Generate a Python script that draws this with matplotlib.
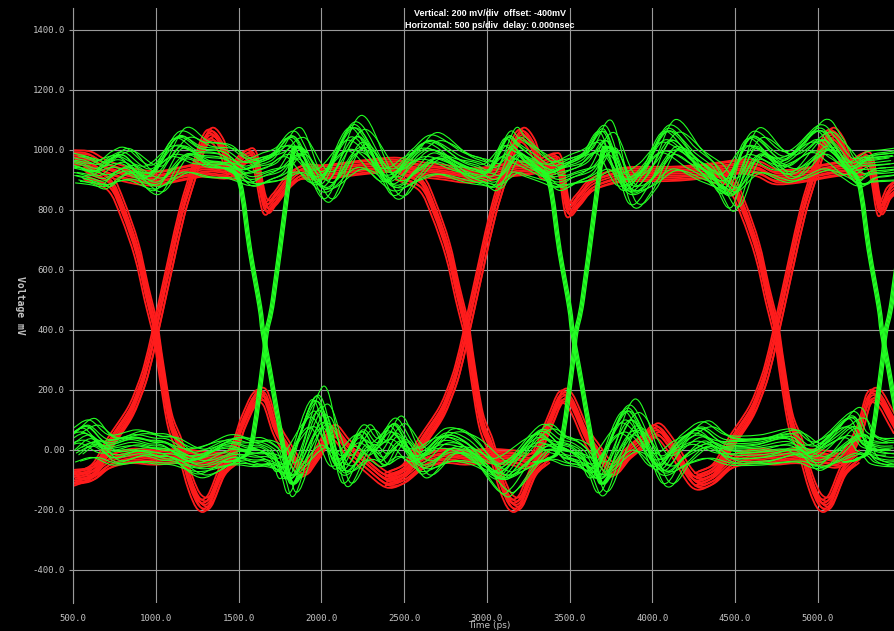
import numpy as np
import matplotlib
matplotlib.use('Agg')
import matplotlib.pyplot as plt
from matplotlib.path import Path
from matplotlib.patches import PathPatch

# ---------------------------------------------------------------------------
# Data (time in ps, voltage in mV)
# ---------------------------------------------------------------------------
x_ticks = [500, 1000, 1500, 2000, 2500, 3000, 3500, 4000, 4500, 5000]
x_tick_labels = ['500.0', '1000.0', '1500.0', '2000.0', '2500.0',
                 '3000.0', '3500.0', '4000.0', '4500.0', '5000.0']
y_ticks = [-400, -200, 0, 200, 400, 600, 800, 1000, 1200, 1400]
y_tick_labels = ['-400.0', '-200.0', '0.00', '200.0', '400.0',
                 '600.0', '800.0', '1000.0', '1200.0', '1400.0']

# red signal: crossing points and rails
red_cross = [1000, 2880, 4750]
red_hi_t = [500, 600, 700, 850, 1000, 1150, 1300, 1450, 1540, 1600, 1660, 1720, 1790, 1880, 2000,
            2150, 2300, 2450, 2600, 2750, 2880, 3000, 3150, 3300, 3400, 3445, 3490, 3550, 3640, 3800,
            3950, 4100, 4250, 4400, 4550, 4650, 4750, 4900, 5050, 5200, 5290, 5330, 5375, 5430, 5470]
red_hi_v = [975, 970, 940, 915, 905, 920, 935, 930, 975, 965, 815, 835, 885, 925, 925,
            935, 945, 950, 935, 925, 915, 920, 935, 945, 965, 945, 805, 830, 885, 915,
            920, 920, 925, 935, 945, 935, 910, 915, 930, 945, 970, 935, 805, 855, 875]
red_lo_t = [500, 620, 720, 850, 1000, 1150, 1300, 1450, 1530, 1600, 1660, 1720, 1790, 1890, 1980,
            2070, 2160, 2280, 2400, 2500, 2620, 2760, 2880, 3000, 3150, 3280, 3380, 3450, 3510, 3600,
            3660, 3760, 3860, 3950, 4030, 4120, 4250, 4360, 4480, 4620, 4750, 4880, 5020, 5150, 5250,
            5310, 5370, 5440, 5470]
red_lo_v = [-90, -80, -40, -20, -25, -20, -30, -20, 90, 170, 175, 80, 10, -65, -10,
            60, 10, -50, -100, -90, -40, -20, -25, -20, -25, -30, 90, 175, 160, 50,
            0, -65, -10, 30, 65, 10, -100, -95, -40, -20, -25, -20, -25, -30, 60,
            170, 175, 110, 80]
# edges, time relative to the crossing
red_fall_dt = [-420, -277, -198, -115, -55, 0, 35, 86, 146, 210, 267, 327, 408, 490]
red_fall_v = [925, 889, 800, 667, 522, 395, 267, 100, 11, -110, -175, -170, -67, -25]
red_rise_dt = [-480, -370, -276, -156, -95, -55, 0, 86, 160, 225, 290, 340, 400, 450, 520]
red_rise_v = [-95, -65, 22, 122, 200, 267, 395, 611, 790, 911, 1020, 1050, 1010, 935, 925]
# spread of the red bundle
red_dv = [-24, -18, -12, -6, 0, 6, 12, 18, 24]
red_dt = [-12, 8, -4, 14, 0, -10, 4, -14, 10]

# green signal
green_cross = [1650, 3520, 5390]
green_hi_t = [500, 580, 663, 740, 824, 985, 1146, 1287, 1428, 1549, 1650, 1730, 1851, 2012, 2213,
              2414, 2550, 2676, 2857, 2960, 3040, 3141, 3201, 3300, 3403, 3503, 3610, 3725, 3845, 3966,
              4107, 4268, 4369, 4470, 4611, 4812, 5013, 5114, 5215, 5300, 5390, 5470]
green_hi_v = [940, 930, 915, 945, 957, 900, 1011, 978, 967, 923, 940, 957, 1011, 878, 1044,
              889, 950, 1000, 943, 925, 915, 1010, 989, 950, 911, 933, 960, 1030, 867, 911,
              1033, 956, 911, 856, 1011, 944, 1033, 989, 922, 944, 950, 956]
green_lo_t = [500, 603, 724, 884, 1000, 1086, 1247, 1448, 1570, 1650, 1740, 1809, 1985, 2116, 2257,
              2350, 2458, 2596, 2757, 2898, 3060, 3141, 3330, 3450, 3520, 3600, 3684, 3866, 4047, 4180,
              4308, 4450, 4650, 4850, 4993, 5215, 5300, 5390, 5470]
green_lo_v = [20, 50, 0, 17, 5, 0, -44, 0, -11, -10, -40, -89, 133, -67, 33,
              -11, 56, -44, 22, 0, -89, -80, 33, 0, -10, -40, -89, 100, -67, 0,
              44, 0, 0, 20, -22, 78, 10, -10, -11]
green_fall_dt = [-220, -140, -80, -20, 0, 40, 121, 170, 230]
green_fall_v = [940, 889, 667, 478, 390, 267, 11, -110, -80]
green_rise_dt = [-230, -150, -70, 0, 20, 60, 140, 180, 210, 260]
green_rise_v = [-40, -30, 22, 290, 390, 500, 833, 989, 1011, 990]
# spread of the green bundle
green_gain = [0.4, 0.6, 0.75, 0.9, 1.0, 1.1, 1.2, 1.3, 0.65, 1.25,
              0.85, 1.15, 0.5, 1.0, 0.8, 1.05, 0.55, 1.2, 0.95, 0.7]
green_dv = [-45, 30, -25, 10, 0, -35, 20, 40, -10, -25,
            40, 15, -50, 50, -15, 25, 5, -40, 35, -5]
green_dt = [45, -50, 20, -30, 0, 60, -15, 30, -60, 10,
            50, -40, 15, -5, 25, -20, -35, 35, -10, 55]
green_edge_dt = [-12, -5, 2, 9]

RED = '#ff1c1c'
GREEN = '#22ff22'
GRID = '#9a9a9a'
TXT = '#c4c4c4'


def smooth_path(t, v):
    # Catmull-Rom curve through the read points, drawn as cubic Bezier
    p = np.column_stack([t, v]).astype(float)
    n = len(p)
    verts = [p[0]]
    codes = [Path.MOVETO]
    for i in range(n - 1):
        p0 = p[i - 1] if i > 0 else p[i]
        p3 = p[i + 2] if i + 2 < n else p[i + 1]
        verts += [p[i] + (p[i + 1] - p0) / 6, p[i + 1] - (p3 - p[i]) / 6, p[i + 1]]
        codes += [Path.CURVE4] * 3
    return Path(verts, codes)


def trace(ax, t, v, color, lw):
    ax.add_patch(PathPatch(smooth_path(t, v), fill=False, edgecolor=color,
                           lw=lw, joinstyle='round', capstyle='round'))


fig = plt.figure(figsize=(8.94, 6.31), dpi=100, facecolor='black')
ax = fig.add_axes([73 / 894, 1 - 603 / 631, 1 - 73 / 894, 595 / 631])
ax.set_facecolor('black')
ax.set_xlim(500, 5460)
ax.set_ylim(-510, 1473)

# red bundle
for dv, dt in zip(red_dv, red_dt):
    trace(ax, np.array(red_hi_t) + dt, np.array(red_hi_v) + dv, RED, 1.3)
    trace(ax, np.array(red_lo_t) + dt, np.array(red_lo_v) + dv, RED, 1.3)
    for c in red_cross:
        trace(ax, c + np.array(red_fall_dt) + dt, np.array(red_fall_v) + dv, RED, 1.3)
        trace(ax, c + np.array(red_rise_dt) + dt, np.array(red_rise_v) + dv, RED, 1.3)

# green bundle
for g, dv, dt in zip(green_gain, green_dv, green_dt):
    hv = 940 + g * (np.array(green_hi_v) - 940) + dv
    lv = g * np.array(green_lo_v) + dv
    trace(ax, np.array(green_hi_t) + dt, hv, GREEN, 0.8)
    trace(ax, np.array(green_lo_t) + dt, lv, GREEN, 0.8)
for c in green_cross:
    for dt in green_edge_dt:
        trace(ax, c + np.array(green_fall_dt) + dt, green_fall_v, GREEN, 1.0)
        trace(ax, c + np.array(green_rise_dt) + dt, green_rise_v, GREEN, 1.0)

# grid and axes
ax.set_xticks(x_ticks)
ax.set_xticklabels(x_tick_labels)
ax.set_yticks(y_ticks)
ax.set_yticklabels(y_tick_labels)
ax.grid(True, color=GRID, lw=0.8)
ax.set_axisbelow(True)
for s in ['top', 'right', 'bottom']:
    ax.spines[s].set_visible(False)
ax.spines['left'].set_color(GRID)
ax.spines['left'].set_linewidth(0.8)
ax.tick_params(axis='y', colors=GRID, labelcolor=TXT, length=3, width=0.8, pad=3, labelsize=6.5)
ax.tick_params(axis='x', colors=GRID, labelcolor=TXT, length=0, pad=8, labelsize=6.5)
for lab in ax.get_xticklabels() + ax.get_yticklabels():
    lab.set_family('DejaVu Sans Mono')

fig.text(490 / 894, 1 - 13 / 631, 'Vertical: 200 mV/div  offset: -400mV', color='white',
         fontsize=6.5, fontweight='bold', family='Liberation Sans', ha='center', va='center')
fig.text(490 / 894, 1 - 26 / 631, 'Horizontal: 500 ps/div  delay: 0.000nsec', color='white',
         fontsize=6.5, fontweight='bold', family='Liberation Sans', ha='center', va='center')
fig.text(20 / 894, 1 - 305 / 631, 'Voltage mV', color=TXT, rotation=-90, fontsize=7,
         fontweight='bold', family='DejaVu Sans Mono', ha='center', va='center')
fig.text(489 / 894, 1 - 626 / 631, 'Time (ps)', color=TXT, fontsize=6.5,
         family='DejaVu Sans', ha='center', va='center')

fig.savefig('out.png', dpi=100, facecolor='black')
